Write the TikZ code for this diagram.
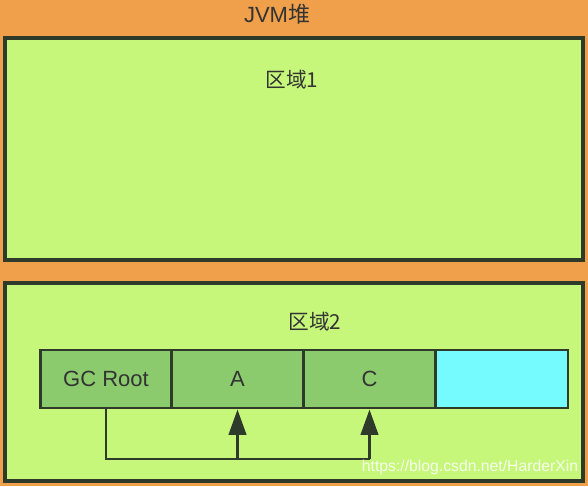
\documentclass[tikz,border=0pt]{standalone}
\usepackage{fontspec}
\setmainfont{Liberation Sans}
\newfontfamily\cjk{Noto Sans CJK SC}
\usetikzlibrary{arrows.meta,positioning}
\definecolor{heapbg}{HTML}{F0A04B}
\definecolor{regionbg}{HTML}{C6F77A}
\definecolor{objbg}{HTML}{8BCB6E}
\definecolor{freebg}{HTML}{75FBFD}
\definecolor{edge}{HTML}{2E3A2A}
\begin{document}
\begin{tikzpicture}[x=0.75pt,y=-0.75pt,
  region/.style={draw=edge,line width=2.4pt,fill=regionbg},
  cell/.style={draw=edge,line width=2.2pt,fill=objbg,minimum width=98.5pt,minimum height=43.5pt,inner sep=0pt,font=\fontsize{16.5}{19}\selectfont,text=black!80},
  lbl/.style={font=\fontsize{16.5}{19}\selectfont,text=black!80,inner sep=0pt},
  rlbl/.style={lbl,font=\fontsize{15.5}{18}\selectfont},
  link/.style={draw=edge,line width=2.2pt},
  arr/.style={link,-{Triangle[length=19pt,width=13pt]}}]
\fill[heapbg] (0,0) rectangle (588,486);
\useasboundingbox (0,0) rectangle (588,486);
\node[lbl] (heap) at (277,14) {JVM{\cjk 堆}};
\draw[region] (5,38) rectangle (583,260);
\node[rlbl] (r1) at (292,80) {\cjk 区域1};
\draw[region] (5,283) rectangle (583,481);
\node[rlbl] (r2) at (315,322) {\cjk 区域2};
\node[cell] (gc) at (106,379) {GC Root};
\node[cell] (a) at (237.5,379) {A};
\node[cell] (c) at (369.5,379) {C};
\node[cell,fill=freebg,minimum width=99pt] (free) at (502,379) {};
\coordinate (bl) at (106,459);
\coordinate (bm) at (a.south |- bl);
\coordinate (br) at (c.south |- bl);
\draw[link] (gc.south) -- (bl) -- (br);
\draw[arr] (bm) -- (a.south);
\draw[arr] (br) -- (c.south);
\node[lbl,text=white,opacity=0.85,font=\fontsize{11.8}{14}\selectfont] (wm) at (470,467) {https://blog.csdn.net/HarderXin};
\end{tikzpicture}
\end{document}
